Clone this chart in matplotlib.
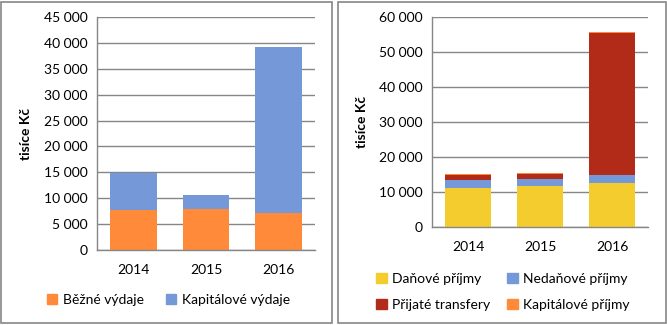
import matplotlib
matplotlib.use("Agg")
import matplotlib.pyplot as plt
from matplotlib.patches import Rectangle, Patch
from matplotlib.ticker import FuncFormatter
import numpy as np

plt.rcParams['font.family'] = ['Lato', 'DejaVu Sans']

years = ['2014', '2015', '2016']
bezne_vydaje = [7800, 7900, 7200]
kapitalove_vydaje = [7150, 2750, 32000]

danove_prijmy = [10950, 11550, 12400]
nedanove_prijmy = [2300, 2000, 2300]
prijate_transfery = [1450, 1450, 40900]
kapitalove_prijmy = [300, 280, 200]

left_labels = ['Běžné výdaje', 'Kapitálové výdaje']
right_labels = ['Daňové příjmy', 'Nedaňové příjmy', 'Přijaté transfery', 'Kapitálové příjmy']

C_ORANGE = '#FF8A3A'
C_BLUE = '#7599D8'
C_YELLOW = '#F4CC2E'
C_RED = '#B22B18'
GRID = '#868686'
FS = 10

W, H = 667, 325
fig = plt.figure(figsize=(W / 100, H / 100), dpi=100)

def fx(px):
    return px / W

def fy(py):
    return 1 - py / H

# panel borders
for x0, x1 in [(1.5, 331.5), (337.5, 665.5)]:
    fig.patches.append(Rectangle((fx(x0), fy(322.5)), fx(x1 - x0), (321 / H),
                                 transform=fig.transFigure, fill=False,
                                 edgecolor=GRID, linewidth=1.2, zorder=0))

fmt = FuncFormatter(lambda v, p: f"{int(v):,}".replace(",", " "))

def style_ax(ax, ymax, step):
    ax.set_ylim(0, ymax)
    ax.set_xlim(-0.5, 2.5)
    ax.set_yticks(np.arange(0, ymax + 1, step))
    ax.yaxis.set_major_formatter(fmt)
    ax.grid(axis='y', color=GRID, linewidth=1.0)
    ax.set_axisbelow(True)
    for s in ['top', 'right']:
        ax.spines[s].set_visible(False)
    for s in ['left', 'bottom']:
        ax.spines[s].set_color(GRID)
        ax.spines[s].set_linewidth(1.0)
    ax.tick_params(length=0, labelsize=FS, colors='black', pad=7)
    ax.tick_params(axis='x', pad=10)
    ax.set_ylabel('tisíce Kč', fontsize=FS, fontweight='bold', labelpad=8)

x = np.arange(len(years))
bw = 0.64

# Left chart
axL = fig.add_axes([fx(97), fy(250), fx(315 - 97), (250 - 17) / H])
axL.bar(x, bezne_vydaje, bw, color=C_ORANGE, label=left_labels[0])
axL.bar(x, kapitalove_vydaje, bw, bottom=bezne_vydaje, color=C_BLUE, label=left_labels[1])
axL.set_xticks(x, years)
style_ax(axL, 45000, 5000)
axL.legend(handles=[Patch(color=C_ORANGE, label=left_labels[0]),
                    Patch(color=C_BLUE, label=left_labels[1])],
           loc='center', bbox_to_anchor=(fx(168.5), fy(300)), bbox_transform=fig.transFigure,
           ncol=2, frameon=False, fontsize=FS, handlelength=0.75, handleheight=0.75,
           handletextpad=0.4, columnspacing=1.6)

# Right chart
axR = fig.add_axes([fx(432), fy(226.7), fx(648 - 432), (226.7 - 17.3) / H])
b1 = np.array(danove_prijmy)
b2 = b1 + np.array(nedanove_prijmy)
b3 = b2 + np.array(prijate_transfery)
axR.bar(x, danove_prijmy, bw, color=C_YELLOW)
axR.bar(x, nedanove_prijmy, bw, bottom=b1, color=C_BLUE)
axR.bar(x, prijate_transfery, bw, bottom=b2, color=C_RED)
axR.bar(x, kapitalove_prijmy, bw, bottom=b3, color=C_ORANGE)
axR.set_xticks(x, years)
style_ax(axR, 60000, 10000)
axR.legend(handles=[Patch(color=C_YELLOW, label=right_labels[0]),
                    Patch(color=C_RED, label=right_labels[2]),
                    Patch(color=C_BLUE, label=right_labels[1]),
                    Patch(color=C_ORANGE, label=right_labels[3])],
           loc='center', bbox_to_anchor=(fx(503), fy(292)), bbox_transform=fig.transFigure,
           ncol=2, frameon=False, fontsize=FS, handlelength=0.75, handleheight=0.75,
           handletextpad=0.4, columnspacing=1.2, labelspacing=1.0)

fig.savefig('out.png', dpi=100)
